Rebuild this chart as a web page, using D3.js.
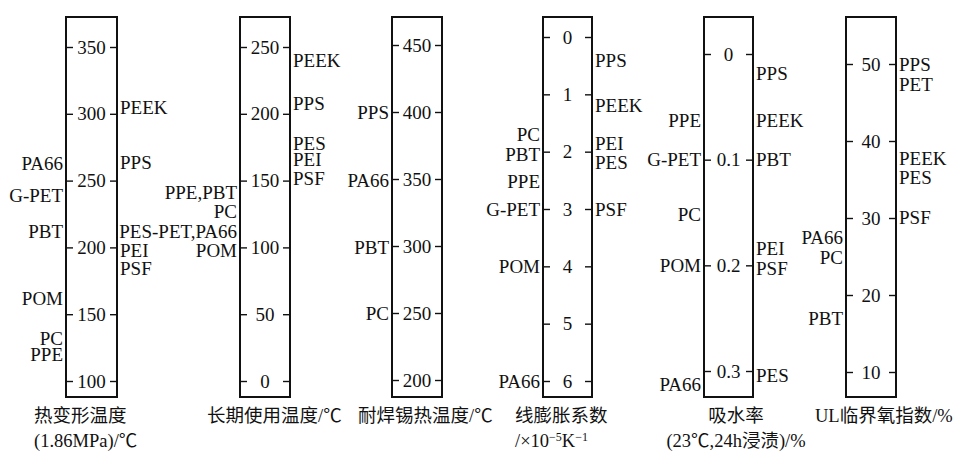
<!DOCTYPE html>
<html>
<head>
<meta charset="utf-8">
<script src="https://cdn.jsdelivr.net/npm/d3@7"></script>
<style>
  html, body { margin: 0; padding: 0; background: #fff; }
  svg text { fill: #111; }
  .lat { font-family: "Liberation Serif", "Times New Roman", serif; font-size: 19px; }
  .cjk { font-family: "Liberation Serif", "Noto Sans CJK SC", serif; font-size: 18.5px; }
</style>
</head>
<body>
<svg id="chart" width="960" height="455"></svg>
<script>
// ---- Heat deflection temperature (1.86 MPa), °C ----
const hdtTicks = [100, 150, 200, 250, 300, 350];
const hdtLeftNames = ["PA66", "G-PET", "PBT", "POM", "PC", "PPE"];
const hdtLeftValues = [263, 239, 212, 162, 132, 120];
const hdtRightNames = ["PEEK", "PPS", "PEI", "PSF"];
const hdtRightValues = [305, 264, 198, 184];

// ---- Continuous service temperature, °C ----
const useTicks = [0, 50, 100, 150, 200, 250];
const useLeftNames = ["PPE,PBT", "PC", "PES-PET,PA66", "POM"];
const useLeftValues = [141, 127, 112, 98];
const useRightNames = ["PEEK", "PPS", "PES", "PEI", "PSF"];
const useRightValues = [240, 208, 178, 166, 152];

// ---- Solder heat resistance, °C ----
const solderTicks = [200, 250, 300, 350, 400, 450];
const solderLeftNames = ["PPS", "PA66", "PBT", "PC"];
const solderLeftValues = [400, 349, 299, 250];
const solderRightNames = [];
const solderRightValues = [];

// ---- Linear expansion coefficient, ×10⁻⁵ K⁻¹ ----
const cteTicks = [0, 1, 2, 3, 4, 5, 6];
const cteLeftNames = ["PC", "PBT", "PPE", "G-PET", "POM", "PA66"];
const cteLeftValues = [1.69, 2.05, 2.52, 3.0, 4.0, 6.0];
const cteRightNames = ["PPS", "PEEK", "PEI", "PES", "PSF"];
const cteRightValues = [0.4, 1.19, 1.86, 2.19, 3.0];

// ---- Water absorption (23 °C, 24 h immersion), % ----
const waterTicks = [0, 0.1, 0.2, 0.3];
const waterLeftNames = ["PPE", "G-PET", "PC", "POM", "PA66"];
const waterLeftValues = [0.063, 0.10, 0.152, 0.20, 0.313];
const waterRightNames = ["PPS", "PEEK", "PBT", "PEI", "PSF", "PES"];
const waterRightValues = [0.018, 0.063, 0.10, 0.184, 0.203, 0.304];

// ---- UL limiting oxygen index, % ----
const loiTicks = [10, 20, 30, 40, 50];
const loiLeftNames = ["PA66", "PC", "PBT"];
const loiLeftValues = [27.5, 24.9, 17];
const loiRightNames = ["PPS", "PET", "PEEK", "PES", "PSF"];
const loiRightValues = [50, 47.4, 37.8, 35.3, 30.1];

// Panel layout: frame edges and the pixel span of the first/last tick
const frameTop = 17, frameBottom = 397;
const panels = [
  { x0: 66,  x1: 117, ticks: hdtTicks,    yTop: 47, yBot: 381, fmt: d3.format("d"),
    left: [hdtLeftNames, hdtLeftValues],     right: [hdtRightNames, hdtRightValues] },
  { x0: 240, x1: 290, ticks: useTicks,    yTop: 47, yBot: 381, fmt: d3.format("d"),
    left: [useLeftNames, useLeftValues],     right: [useRightNames, useRightValues] },
  { x0: 392, x1: 442, ticks: solderTicks, yTop: 45, yBot: 380, fmt: d3.format("d"),
    left: [solderLeftNames, solderLeftValues], right: [solderRightNames, solderRightValues] },
  { x0: 543, x1: 592, ticks: cteTicks,    yTop: 37, yBot: 381, fmt: d3.format("d"), inverted: true,
    left: [cteLeftNames, cteLeftValues],     right: [cteRightNames, cteRightValues] },
  { x0: 704, x1: 753, ticks: waterTicks,  yTop: 54, yBot: 371, fmt: d => d === 0 ? "0" : d3.format(".1f")(d), inverted: true,
    left: [waterLeftNames, waterLeftValues], right: [waterRightNames, waterRightValues] },
  { x0: 846, x1: 896, ticks: loiTicks,    yTop: 64, yBot: 372, fmt: d3.format("d"),
    left: [loiLeftNames, loiLeftValues],     right: [loiRightNames, loiRightValues] }
];

const svg = d3.select("#chart");

panels.forEach(p => {
  const ext = d3.extent(p.ticks);
  const y = d3.scaleLinear()
    .domain(p.inverted ? [ext[0], ext[1]] : [ext[1], ext[0]])
    .range([p.yTop, p.yBot]);

  const g = svg.append("g");

  // frame
  g.append("rect")
    .attr("x", p.x0).attr("y", frameTop)
    .attr("width", p.x1 - p.x0).attr("height", frameBottom - frameTop)
    .attr("fill", "none").attr("stroke", "#111").attr("stroke-width", 2);

  // inner ticks on both sides of the frame
  const tl = g.append("g").attr("transform", `translate(${p.x0},0)`)
    .call(d3.axisRight(y).tickValues(p.ticks).tickSize(7).tickFormat(""));
  const tr = g.append("g").attr("transform", `translate(${p.x1},0)`)
    .call(d3.axisLeft(y).tickValues(p.ticks).tickSize(7).tickFormat(""));
  [tl, tr].forEach(a => {
    a.select(".domain").remove();
    a.selectAll("line").attr("stroke", "#111").attr("stroke-width", 1.4);
  });

  // tick values centred in the frame
  g.selectAll("text.tick-val").data(p.ticks).join("text")
    .attr("class", "lat tick-val")
    .attr("x", (p.x0 + p.x1) / 2)
    .attr("y", d => y(d))
    .attr("dy", "0.35em")
    .attr("text-anchor", "middle")
    .text(p.fmt);

  // material labels
  const [ln, lv] = p.left, [rn, rv] = p.right;
  g.selectAll("text.lab-l").data(ln.map((n, i) => ({ n, v: lv[i] }))).join("text")
    .attr("class", "lat lab-l")
    .attr("x", p.x0 - 3)
    .attr("y", d => y(d.v))
    .attr("dy", "0.35em")
    .attr("text-anchor", "end")
    .text(d => d.n);
  g.selectAll("text.lab-r").data(rn.map((n, i) => ({ n, v: rv[i] }))).join("text")
    .attr("class", "lat lab-r")
    .attr("x", p.x1 + 3)
    .attr("y", d => y(d.v))
    .attr("dy", "0.35em")
    .attr("text-anchor", "start")
    .text(d => d.n);
});

// axis titles
const line1 = 422, line2 = 447;
function title(x, yb, anchor) {
  return svg.append("text").attr("class", "cjk")
    .attr("x", x).attr("y", yb).attr("text-anchor", anchor);
}
title(34, line1, "start").text("热变形温度");
title(34, line2, "start").text("(1.86MPa)/℃");
title(207, line1, "start").text("长期使用温度/℃");
title(358, line1, "start").text("耐焊锡热温度/℃");
title(515, line1, "start").text("线膨胀系数");
const t4 = title(515, line2, "start");
t4.append("tspan").text("/×10");
t4.append("tspan").attr("font-size", "12px").attr("dy", "-6").text("−5");
t4.append("tspan").attr("dy", "6").text("K");
t4.append("tspan").attr("font-size", "12px").attr("dy", "-6").text("−1");
title(736, line1, "middle").text("吸水率");
title(736, line2, "middle").text("(23℃,24h浸渍)/%");
title(815, line1, "start").text("UL临界氧指数/%");
</script>
</body>
</html>
